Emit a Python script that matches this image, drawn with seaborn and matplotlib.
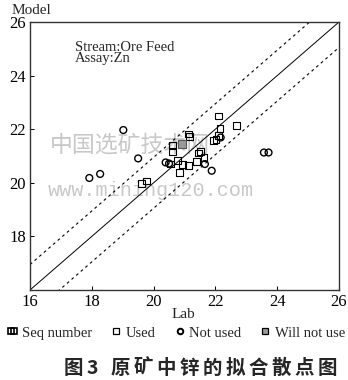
import matplotlib
matplotlib.use("Agg")
import matplotlib.pyplot as plt
import seaborn as sns
import numpy as np
import pandas as pd
from matplotlib.lines import Line2D
from matplotlib.legend_handler import HandlerLine2D

# ---- data ----
used_lab = [19.61, 19.78, 20.62, 20.62, 20.55, 20.77, 20.85, 20.94, 21.12, 21.16,
            21.12, 21.39, 21.45, 21.53, 21.63, 21.93, 22.02, 22.09, 22.09, 22.15, 22.67]
used_model = [19.97, 20.07, 21.38, 21.16, 20.70, 20.82, 20.39, 20.67, 21.82, 21.72,
              20.66, 20.80, 21.11, 21.17, 20.95, 21.57, 21.63, 21.76, 22.49, 22.03, 22.13]
notused_lab = [17.92, 18.27, 19.02, 19.50, 20.39, 20.50, 21.66, 21.88, 22.17, 23.57, 23.72]
notused_model = [20.18, 20.33, 21.97, 20.91, 20.76, 20.72, 20.70, 20.45, 21.69, 21.13, 21.13]
willnot_lab = [20.91]
willnot_model = [21.44]
fit_x = [16, 26]
band = 0.95
x_ticks = [16, 18, 20, 22, 24, 26]
y_ticks = [18, 20, 22, 24, 26]
legend_labels = ["Seq number", "Used", "Not used", "Will not use"]
caption_head = ["图", "3"]
caption_body = list("原矿中锌的拟合散点图")

sns.set_theme(style="white")
plt.rcParams['font.family'] = ['Liberation Serif', 'DejaVu Serif']

fig = plt.figure(figsize=(3.48, 3.80), dpi=100)
ax = fig.add_axes([30/348, 1-290/380, 309/348, 268/380])

# watermark (behind the data)
ax.text(50/348, 1-145/380, "中国选矿技术网", fontsize=16.5, color='#c8c8c8',
        family=['Noto Sans CJK SC', 'DejaVu Sans'], ha='left', va='center',
        transform=fig.transFigure, zorder=0.5)
ax.text(48/348, 1-191/380, "www.mining120.com", fontsize=14.5, color='#c8c8c8',
        family=['Liberation Mono', 'DejaVu Sans Mono'], ha='left', va='center',
        transform=fig.transFigure, zorder=0.5)

fx = np.array(fit_x, dtype=float)
ax.plot(fx, fx, color='black', lw=0.7)
ax.plot(fx, fx + band, color='black', lw=0.8, ls=(0, (2.5, 3)))
ax.plot(fx, fx - band, color='black', lw=0.8, ls=(0, (2.5, 3)))

used = pd.DataFrame({"Lab": used_lab, "Model": used_model})
notused = pd.DataFrame({"Lab": notused_lab, "Model": notused_model})
willnot = pd.DataFrame({"Lab": willnot_lab, "Model": willnot_model})

sns.scatterplot(data=used, x="Lab", y="Model", ax=ax, marker='s', s=24,
                facecolor='none', edgecolor='black', linewidth=0.8, zorder=3)
sns.scatterplot(data=notused, x="Lab", y="Model", ax=ax, marker='o', s=24,
                facecolor='none', edgecolor='black', linewidth=1.0, zorder=3)
sns.scatterplot(data=willnot, x="Lab", y="Model", ax=ax, marker='s', s=26,
                facecolor='#9a9a9a', edgecolor='#555555', linewidth=0.8, zorder=3)

ax.set_xlim(16, 26)
ax.set_ylim(16, 26)
ax.set_xticks(x_ticks)
ax.set_yticks(y_ticks)
ax.set_xlabel("")
ax.set_ylabel("")
ax.tick_params(direction='in', length=3, width=0.7, labelsize=12, colors='black',
               left=True, bottom=True, pad=3)
for sp in ax.spines.values():
    sp.set_color('#333333')
    sp.set_linewidth(1.0)

ax.text(17.46, 25.3, "Stream:Ore Feed\nAssay:Zn", fontsize=10.5, va='top', ha='left',
        linespacing=0.85)

fig.text(12/348, 1-10/380, "Model", fontsize=11, ha='left', va='center')
fig.text(183/348, 1-314/380, "Lab", fontsize=11, ha='center', va='center')

handles = [
    Line2D([], [], ls='', marker='s', mfc='none', mec='black', ms=4, mew=1.2),
    Line2D([], [], ls='', marker='s', mfc='none', mec='black', ms=4, mew=0.9),
    Line2D([], [], ls='', marker='o', mfc='none', mec='black', ms=4, mew=1.4),
    Line2D([], [], ls='', marker='s', mfc='#9a9a9a', mec='black', ms=4, mew=0.9),
]
fig.legend(handles, legend_labels, loc='center', bbox_to_anchor=(176/348, 1-333/380),
           ncol=4, frameon=False, fontsize=10.5, handlelength=0.8, handletextpad=0.25,
           columnspacing=1.25, borderaxespad=0, borderpad=0,
           handler_map={handles[0]: HandlerLine2D(numpoints=2)})

cap_font = dict(fontsize=14, fontweight='bold', family=['Noto Sans CJK SC', 'DejaVu Sans'],
                ha='center', va='center')
for ch, cx in zip(caption_head, [73, 92]):
    fig.text(cx/348, 1-368/380, ch, **cap_font)
for i, ch in enumerate(caption_body):
    fig.text((120 + 23*i)/348, 1-368/380, ch, **cap_font)

fig.savefig("out.png", dpi=100)
